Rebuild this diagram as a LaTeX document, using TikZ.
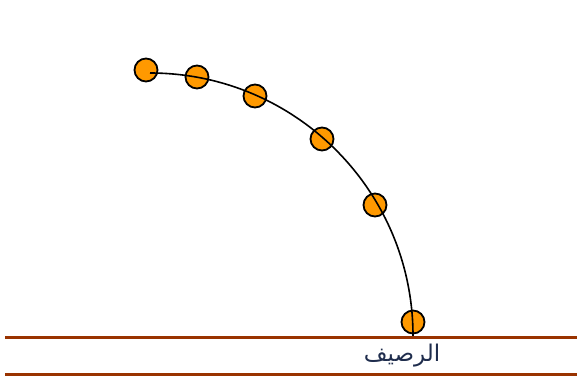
\documentclass[tikz,border=0pt]{standalone}
\usepackage{fontspec}
\newfontfamily\arabicfont[Script=Arabic]{DejaVu Sans}
\TeXXeTstate=1
\definecolor{ball}{HTML}{FF9900}
\definecolor{rail}{HTML}{993300}
\definecolor{label}{HTML}{1F2D4D}
\begin{document}
\begin{tikzpicture}[x=1pt,y=-1pt,
  ballnode/.style={circle,draw=black,fill=ball,line width=1.8pt,minimum size=23pt,inner sep=0pt},
  railline/.style={draw=rail,line width=3pt},
  pathline/.style={draw=black,line width=1.6pt}]
\useasboundingbox (0,0) rectangle (577,380);
\node[ballnode] (c1) at (146,70) {};
\node[ballnode] (c2) at (197,77) {};
\node[ballnode] (c3) at (255,96) {};
\node[ballnode] (c4) at (322,139) {};
\node[ballnode] (c5) at (375,205) {};
\node[ballnode] (c6) at (413,322) {};
\coordinate (s) at (150,73);
\coordinate (e) at (413,336);
\draw[pathline] (s) arc[start angle=90,end angle=0,x radius=263,y radius=-263];
\coordinate (l1a) at (5,337);
\coordinate (l1b) at (577,337);
\coordinate (l2a) at (5,374);
\coordinate (l2b) at (577,374);
\draw[railline] (l1a) -- (l1b);
\draw[railline] (l2a) -- (l2b);
\node[text=label,font=\arabicfont\fontsize{23}{26}\selectfont,inner sep=0pt] (t) at (402,356) {\beginR الرصيف\endR};
\end{tikzpicture}
\end{document}
